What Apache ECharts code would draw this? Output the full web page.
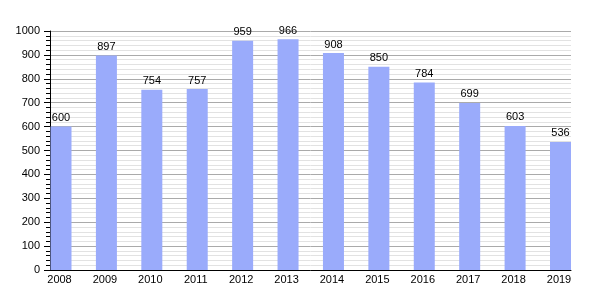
<!DOCTYPE html>
<html><head><meta charset="utf-8">
<script src="https://cdn.jsdelivr.net/npm/echarts@6/dist/echarts.min.js"></script>
<style>html,body{margin:0;padding:0;background:#fff}#c{width:600px;height:300px}</style>
</head><body><div id="c"></div>
<script>
const years = ['2008','2009','2010','2011','2012','2013','2014','2015','2016','2017','2018','2019'];
const values = [600,897,754,757,959,966,908,850,784,699,603,536];
const yTicks = [0,100,200,300,400,500,600,700,800,900,1000];

const chart = echarts.init(document.getElementById('c'), null, {renderer:'canvas'});
const font = 'Liberation Sans, Arial, sans-serif';
chart.setOption({
  animation:false,
  grid:[
    {left:50, right:29, top:31, bottom:30},
    {left:61, right:39.5, top:31, bottom:30}
  ],
  xAxis:[
    {gridIndex:0, type:'category', data:years, boundaryGap:true,
     axisLine:{show:true, lineStyle:{color:'#000', width:1}},
     axisTick:{show:false}, axisLabel:{show:false}, splitLine:{show:false}},
    {gridIndex:1, type:'category', data:years, boundaryGap:false,
     axisLine:{show:false}, axisTick:{show:false},
     axisLabel:{show:true, color:'#000', fontSize:11, fontFamily:font, margin:4, interval:0, padding:[0,3,0,0]}}
  ],
  yAxis:[
    {gridIndex:0, type:'value', min:yTicks[0], max:yTicks[yTicks.length-1], interval:100,
     axisLine:{show:true, lineStyle:{color:'#000'}},
     axisTick:{show:true, inside:false, length:6, lineStyle:{color:'#000'}},
     minorTick:{show:true, splitNumber:5, length:4, lineStyle:{color:'#000'}},
     axisLabel:{color:'#000', fontSize:11, fontFamily:font, margin:10, formatter:function(v){return String(v);}},
     splitLine:{show:true, lineStyle:{color:'#aaaaaa', width:1}},
     minorSplitLine:{show:true, lineStyle:{color:'#e2e2e2', width:1}}},
    {gridIndex:1, type:'value', min:0, max:1000, show:false, splitLine:{show:false}}
  ],
  series:[{
    type:'bar', xAxisIndex:1, yAxisIndex:1, data:values, barWidth:21,
    itemStyle:{color:'#9aabfb'},
    label:{show:true, position:'top', distance:3, color:'#000', fontSize:11, fontFamily:font}
  }]
});
</script></body></html>
